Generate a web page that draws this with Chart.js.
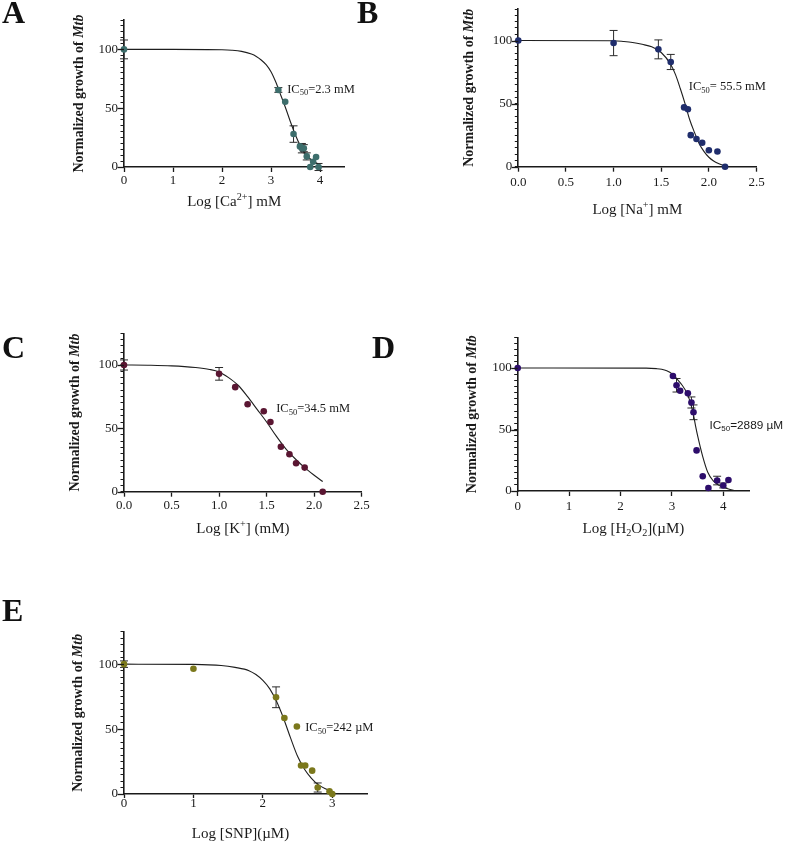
<!DOCTYPE html>
<html>
<head>
<meta charset="utf-8">
<script src="https://cdn.jsdelivr.net/npm/chart.js@4.4.1/dist/chart.umd.min.js"></script>
<style>
  body { margin: 0; background: #fff; }
  #wrap { position: relative; width: 787px; height: 842px; overflow: hidden; }
  #wrap canvas { position: absolute; }
  .lbl { position: absolute; font: bold 32px "Liberation Serif", serif; color: #111; line-height: 1; z-index: 2; }
</style>
</head>
<body>
<div id="wrap">
  <div class="lbl" style="left:2px;top:-4px">A</div>
  <div class="lbl" style="left:357px;top:-4px">B</div>
  <div class="lbl" style="left:2px;top:331px">C</div>
  <div class="lbl" style="left:372px;top:331px">D</div>
  <div class="lbl" style="left:2px;top:594px">E</div>
</div>
<script>
// A: Ca2+
const caX = [0, 3.15, 3.29, 3.46, 3.59, 3.63, 3.67, 3.73, 3.80, 3.86, 3.92, 3.97];
const caY = [100, 65.5, 55.5, 28, 17.5, 16, 16, 9, 0, 4.5, 8.5, 0];
const caErr = [8, 2, 0, 7, 0, 4, 3, 3, 0, 0, 0, 3];
const caFitX = [0, 1, 2, 2.2, 2.4, 2.6, 2.7, 2.8, 2.9, 3.0, 3.1, 3.2, 3.3, 3.4, 3.5, 3.6, 3.7, 3.8, 3.9, 4.0];
const caFitY = [100, 100, 99.7, 99.3, 98.3, 96, 94, 91, 87, 81, 72, 61, 50, 38, 27, 18, 11, 7, 4, 2];
const caTicks = [0, 1, 2, 3, 4];

// B: Na+
const naX = [0, 1.0, 1.47, 1.60, 1.74, 1.78, 1.81, 1.87, 1.93, 2.0, 2.09, 2.17];
const naY = [100, 98, 93, 83, 47, 45.5, 25, 22, 19, 13, 12, 0];
const naErr = [0, 10, 7.5, 6, 0, 0, 0, 0, 0, 0, 0, 0];
const naFitX = [0, 1.0, 1.1, 1.2, 1.3, 1.4, 1.5, 1.6, 1.65, 1.7, 1.75, 1.8, 1.85, 1.9, 1.95, 2.0, 2.05, 2.1, 2.17];
const naFitY = [100, 99.8, 99.3, 98.5, 97, 95, 90.5, 81, 73, 62, 50, 37, 27, 18, 12, 7.5, 4.5, 2.5, 0.5];
const naTicks = [0, 0.5, 1, 1.5, 2, 2.5];

// C: K+
const kX = [0, 1.0, 1.17, 1.30, 1.47, 1.54, 1.65, 1.74, 1.81, 1.90, 2.09];
const kY = [100, 93, 82.5, 69, 63.5, 55, 35.5, 29.5, 22.5, 19, 0];
const kErr = [4, 5, 0, 0, 0, 0, 0, 0, 0, 0, 0];
const kFitX = [0, 0.25, 0.5, 0.75, 0.9, 1.0, 1.1, 1.2, 1.3, 1.4, 1.5, 1.6, 1.7, 1.8, 1.9, 2.0, 2.09];
const kFitY = [100, 99.8, 99.3, 98, 96.5, 94.5, 90, 84, 75, 65, 55, 44, 34, 26, 19, 13, 8];
const kTicks = [0, 0.5, 1, 1.5, 2, 2.5];

// D: H2O2
const hX = [0, 3.02, 3.09, 3.16, 3.31, 3.38, 3.42, 3.48, 3.60, 3.71, 3.88, 4.0, 4.10];
const hY = [100, 93.5, 86, 81.5, 79.5, 72, 64, 33, 12, 2.5, 8.5, 4.5, 9];
const hErr = [0, 0, 5.5, 0, 0, 4.5, 6, 0, 0, 0, 3.5, 2, 0];
const hFitX = [0, 2.5, 2.7, 2.8, 2.9, 3.0, 3.1, 3.2, 3.3, 3.4, 3.46, 3.5, 3.6, 3.7, 3.8, 3.9, 4.0, 4.2];
const hFitY = [100, 99.9, 99.5, 99, 97.8, 95.5, 91, 86, 79, 66, 53, 45, 28, 15, 8.5, 5, 3, 0.5];
const hTicks = [0, 1, 2, 3, 4];

// E: SNP
const snpX = [0, 1.0, 2.19, 2.31, 2.49, 2.55, 2.61, 2.71, 2.79, 2.96, 3.0];
const snpY = [100, 96.5, 74.5, 58.5, 52, 22, 22, 18, 5, 2, 0];
const snpErr = [2.5, 0, 8, 0, 0, 0, 0, 0, 3.5, 0, 0];
const snpFitX = [0, 1.0, 1.4, 1.6, 1.8, 1.9, 2.0, 2.1, 2.2, 2.3, 2.4, 2.5, 2.6, 2.7, 2.8, 2.9, 3.0];
const snpFitY = [100, 99.8, 99, 97.5, 95, 92, 87.5, 81, 71, 58, 43, 29, 19, 12, 7, 4, 2];
const snpTicks = [0, 1, 2, 3];

const yLabels = [0, 50, 100];

const SERIF = '"Liberation Serif", "Times New Roman", serif';
const SANS = '"Liberation Sans", Arial, sans-serif';
const INK = '#1a1a1a';

// draws text made of runs, with sub/superscripts and italics
function drawRuns(ctx, runs, x, y, o) {
  const sz = o.size;
  const fontOf = r => {
    const s = (r.s === 'sup' || r.s === 'sub') ? sz * 0.68 : sz;
    return (r.s === 'i' ? 'italic ' : '') + (o.weight || 'normal') + ' ' + s + 'px ' + o.family;
  };
  let w = 0;
  runs.forEach(r => { ctx.font = fontOf(r); w += ctx.measureText(r.t).width; });
  let cx = o.align === 'center' ? x - w / 2 : x;
  const base = y + sz * 0.33;
  ctx.fillStyle = INK;
  ctx.textAlign = 'left';
  ctx.textBaseline = 'alphabetic';
  runs.forEach(r => {
    ctx.font = fontOf(r);
    let dy = 0;
    if (r.s === 'sup') dy = -sz * 0.38;
    if (r.s === 'sub') dy = sz * 0.22;
    ctx.fillText(r.t, cx, base + dy);
    cx += ctx.measureText(r.t).width;
  });
}

const yTitle = [{t: 'Normalized growth of '}, {t: 'Mtb', s: 'i'}];

const panels = [
  { box: [0, 0, 390, 230], area: [124, 20, 344.5, 167], xs: caX, ys: caY, err: caErr, fx: caFitX, fy: caFitY,
    xmax: 4.5, ticks: caTicks, dec: 0, color: '#3d6e6c', tickLen: 5, tickPad: 0.5,
    xTitle: [{t: 'Log [Ca'}, {t: '2+', s: 'sup'}, {t: '] mM'}], xDx: 0, xDy: 34, yDx: 46,
    note: [{t: 'IC'}, {t: '50', s: 'sub'}, {t: '=2.3 mM'}], noteAt: [3.33, 66.7], noteFont: SERIF, noteSize: 12.5 },
  { box: [390, 0, 397, 230], area: [518.3, 8, 756.5, 166.7], xs: naX, ys: naY, err: naErr, fx: naFitX, fy: naFitY,
    xmax: 2.5, ticks: naTicks, dec: 1, color: '#1f2d6c', tickLen: 5, tickPad: 3.5,
    xTitle: [{t: 'Log [Na'}, {t: '+', s: 'sup'}, {t: '] mM'}], xDx: 0, xDy: 42, yDx: 50,
    note: [{t: 'IC'}, {t: '50', s: 'sub'}, {t: '= 55.5 mM'}], noteAt: [1.79, 63.9], noteFont: SERIF, noteSize: 12.5 },
  { box: [0, 320, 390, 230], area: [124, 333.3, 361.7, 491.7], xs: kX, ys: kY, err: kErr, fx: kFitX, fy: kFitY,
    xmax: 2.5, ticks: kTicks, dec: 1, color: '#5a1632', tickLen: 5, tickPad: 1.5,
    xTitle: [{t: 'Log [K'}, {t: '+', s: 'sup'}, {t: '] (mM)'}], xDx: 0, xDy: 36, yDx: 50,
    note: [{t: 'IC'}, {t: '50', s: 'sub'}, {t: '=34.5 mM'}], noteAt: [1.6, 66], noteFont: SERIF, noteSize: 12.5 },
  { box: [390, 320, 397, 230], area: [517.7, 337.3, 749, 491], xs: hX, ys: hY, err: hErr, fx: hFitX, fy: hFitY,
    xmax: 4.5, ticks: hTicks, dec: 0, color: '#2d0d6b', tickLen: 5, tickPad: 3,
    xTitle: [{t: 'Log [H'}, {t: '2', s: 'sub'}, {t: 'O'}, {t: '2', s: 'sub'}, {t: '](\u00b5M)'}], xDx: 0, xDy: 37, yDx: 46,
    note: [{t: 'IC'}, {t: '50', s: 'sub'}, {t: '=2889 \u00b5M'}], noteAt: [3.73, 53.7], noteFont: SANS, noteSize: 11.8 },
  { box: [0, 600, 390, 242], area: [124, 631.7, 367, 794], xs: snpX, ys: snpY, err: snpErr, fx: snpFitX, fy: snpFitY,
    xmax: 3.5, ticks: snpTicks, dec: 0, color: '#7b781c', tickLen: 4, tickPad: -2.5,
    xTitle: [{t: 'Log [SNP](\u00b5M)'}], xDx: -5, xDy: 39, yDx: 47,
    note: [{t: 'IC'}, {t: '50', s: 'sub'}, {t: '=242 \u00b5M'}], noteAt: [2.61, 51.5], noteFont: SERIF, noteSize: 12.5 }
];

const Y_W = 40, X_H = 30;
const wrap = document.getElementById('wrap');

panels.forEach(p => {
  const [bx, by, bw, bh] = p.box;
  const [al, at, ar, ab] = p.area;
  const cv = document.createElement('canvas');
  cv.width = bw; cv.height = bh;
  cv.style.left = bx + 'px'; cv.style.top = by + 'px';
  wrap.appendChild(cv);

  const extras = {
    id: 'extras',
    beforeDatasetsDraw(chart) {
      const ctx = chart.ctx, xs = chart.scales.x, ys = chart.scales.y;
      ctx.save();
      ctx.strokeStyle = '#2a2a2a';
      ctx.lineWidth = 1;
      p.xs.forEach((v, i) => {
        const e = p.err[i];
        if (!e) return;
        const px = xs.getPixelForValue(v);
        const y1 = ys.getPixelForValue(p.ys[i] + e), y2 = ys.getPixelForValue(p.ys[i] - e);
        ctx.beginPath();
        ctx.moveTo(px, y1); ctx.lineTo(px, y2);
        ctx.moveTo(px - 4, y1); ctx.lineTo(px + 4, y1);
        ctx.moveTo(px - 4, y2); ctx.lineTo(px + 4, y2);
        ctx.stroke();
      });
      ctx.restore();
    },
    afterDraw(chart) {
      const ctx = chart.ctx, xs = chart.scales.x, ys = chart.scales.y, ca = chart.chartArea;
      ctx.save();
      // longer major ticks on y
      ctx.strokeStyle = INK;
      ctx.lineWidth = 1.3;
      yLabels.forEach(v => {
        const py = Math.round(ys.getPixelForValue(v)) + 0.5;
        ctx.beginPath(); ctx.moveTo(ca.left - 6.5, py); ctx.lineTo(ca.left, py); ctx.stroke();
      });
      // axis titles
      drawRuns(ctx, p.xTitle, (ca.left + ca.right) / 2 + p.xDx, ca.bottom + p.xDy,
        {size: 15, family: SERIF, align: 'center'});
      ctx.save();
      ctx.translate(ca.left - p.yDx, (ca.top + ca.bottom) / 2);
      ctx.rotate(-Math.PI / 2);
      drawRuns(ctx, yTitle, 0, 0, {size: 14, weight: 'bold', family: SERIF, align: 'center'});
      ctx.restore();
      // IC50 note
      drawRuns(ctx, p.note, xs.getPixelForValue(p.noteAt[0]), ys.getPixelForValue(p.noteAt[1]),
        {size: p.noteSize, family: p.noteFont, align: 'left'});
      ctx.restore();
    }
  };

  new Chart(cv, {
    type: 'scatter',
    data: {
      datasets: [
        {
          data: p.xs.map((v, i) => ({x: v, y: p.ys[i]})),
          backgroundColor: p.color,
          borderColor: p.color,
          pointRadius: 3.3,
          pointBorderWidth: 0,
          clip: false
        },
        {
          data: p.fx.map((v, i) => ({x: v, y: p.fy[i]})),
          showLine: true,
          borderColor: '#1e1e1e',
          borderWidth: 1.1,
          pointRadius: 0,
          cubicInterpolationMode: 'monotone',
          clip: false
        }
      ]
    },
    options: {
      responsive: false,
      animation: false,
      events: [],
      layout: {
        autoPadding: false,
        padding: { left: al - bx - Y_W, top: at - by, right: bx + bw - ar, bottom: by + bh - ab - X_H }
      },
      plugins: { legend: { display: false }, tooltip: { enabled: false } },
      scales: {
        x: {
          type: 'linear', min: 0, max: p.xmax,
          afterFit(s) { s.height = X_H; },
          afterBuildTicks(s) { s.ticks = p.ticks.map(v => ({value: v})); },
          grid: { drawOnChartArea: false, drawTicks: true, tickLength: p.tickLen, tickWidth: 1.3, tickColor: INK },
          border: { display: true, color: INK, width: 1.6 },
          ticks: {
            color: INK, padding: p.tickPad,
            font: { family: SERIF, size: 13, lineHeight: 1.2 },
            callback: v => v.toFixed(p.dec)
          }
        },
        y: {
          type: 'linear', min: 0, max: 125,
          afterFit(s) { s.width = Y_W; },
          afterBuildTicks(s) {
            const t = [];
            for (let v = 0; v <= 125; v += 5) t.push({value: v});
            s.ticks = t;
          },
          grid: { drawOnChartArea: false, drawTicks: true, tickLength: 3.5, tickWidth: 1, tickColor: INK },
          border: { display: true, color: INK, width: 1.6 },
          ticks: {
            color: INK, padding: 2.5, autoSkip: false,
            font: { family: SERIF, size: 13, lineHeight: 1 },
            callback: v => yLabels.includes(v) ? String(v) : ''
          }
        }
      }
    },
    plugins: [extras]
  });
});
</script>
</body>
</html>
